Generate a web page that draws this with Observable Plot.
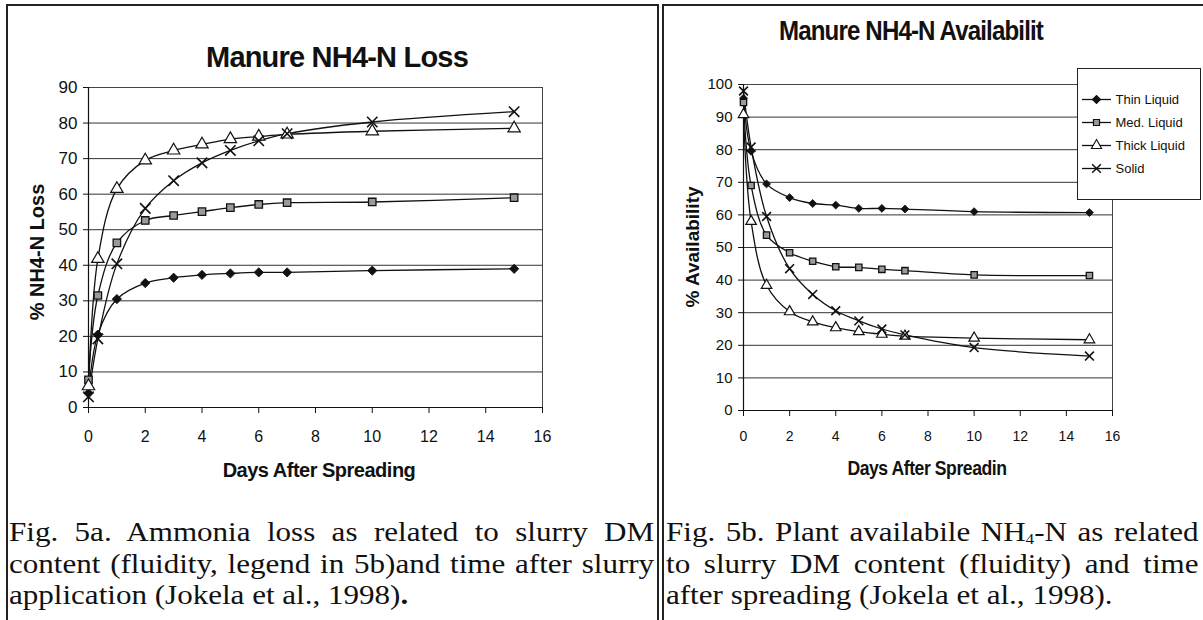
<!DOCTYPE html>
<html><head><meta charset="utf-8">
<script src="https://cdn.jsdelivr.net/npm/d3@7"></script>
<script src="https://cdn.jsdelivr.net/npm/@observablehq/plot@0.6"></script>
<style>
html,body{margin:0;padding:0;background:#fff;}
body{width:1203px;height:620px;overflow:hidden;position:relative;font-family:"Liberation Sans",Arial,sans-serif;color:#111;}
.ctr{position:absolute;transform:translate(-50%,-50%);white-space:nowrap;}
.vert{position:absolute;transform:translate(-50%,-50%) rotate(-90deg);white-space:nowrap;}
.cap{position:absolute;font-family:"Liberation Serif","Times New Roman",serif;font-size:27px;line-height:31.5px;white-space:nowrap;transform:scaleX(1.15);transform-origin:0 0;}
.cap div{text-align:justify;text-align-last:justify;}
.cap div.last{text-align:left;text-align-last:left;}
.cap .sub{font-size:15px;line-height:15px;display:inline-block;vertical-align:-3px;}
.bl{position:absolute;background:#222;}
</style></head><body>
<script>
// ---- data ----
const days = [0, 0.33, 1, 2, 3, 4, 5, 6, 7, 10, 15];
const seriesNames = ["Thin Liquid", "Med. Liquid", "Thick Liquid", "Solid"];
// Fig 5a: % NH4-N loss
const lossThin  = [4, 20.5, 30.5, 35, 36.5, 37.3, 37.7, 38, 38, 38.5, 39];
const lossMed   = [7.8, 31.5, 46.3, 52.6, 54, 55.1, 56.2, 57.1, 57.6, 57.8, 59];
const lossThick = [6, 41.8, 61.5, 69.5, 72.3, 74, 75.5, 76.2, 76.8, 77.7, 78.5];
const lossSolid = [3, 19.3, 40.4, 56, 63.8, 68.8, 72.3, 75, 77, 80.3, 83.2];
// Fig 5b: % availability
const availThin  = [95.8, 79.5, 69.5, 65.3, 63.5, 63, 62, 62, 61.8, 61, 60.7];
const availMed   = [94.5, 69, 53.8, 48.4, 45.8, 44.1, 43.9, 43.3, 42.9, 41.6, 41.4];
const availThick = [90.8, 58, 38.4, 30.3, 27.2, 25.4, 24.2, 23.4, 22.8, 22.2, 21.7];
const availSolid = [98, 80.8, 59.5, 43.5, 35.6, 30.6, 27.5, 25, 23.2, 19.3, 16.7];
// ticks
const xTicks = [0, 2, 4, 6, 8, 10, 12, 14, 16];
const lossTicks = [0, 10, 20, 30, 40, 50, 60, 70, 80, 90];
const availTicks = [0, 10, 20, 30, 40, 50, 60, 70, 80, 90, 100];

function build(vals) {
  return vals.flatMap((arr, k) => days.map((d, i) => ({day: d, value: arr[i], series: seriesNames[k]})));
}
const lossData = build([lossThin, lossMed, lossThick, lossSolid]);
const availData = build([availThin, availMed, availThick, availSolid]);

function markers(data, s) {
  const f = name => data.filter(d => d.series === name);
  return [
    Plot.dot(f("Thin Liquid"), {x: "day", y: "value", symbol: "square", rotate: 45, r: 3.7 * s, fill: "#111", stroke: "#111", strokeWidth: 0.8}),
    Plot.dot(f("Med. Liquid"), {x: "day", y: "value", symbol: "square", r: 4.2 * s, fill: "#9a9a9a", stroke: "#111", strokeWidth: 1.3}),
    Plot.dot(f("Thick Liquid"), {x: "day", y: "value", symbol: "triangle", r: 4.6 * s, fill: "#fff", stroke: "#111", strokeWidth: 1.2}),
    Plot.dot(f("Solid"), {x: "day", y: "value", symbol: "times", r: 4.8 * s, stroke: "#111", strokeWidth: 1.6})
  ];
}

function chart(data, yTicks, yMax, opts) {
  return Plot.plot({
    width: opts.width, height: 500,
    marginLeft: opts.ml, marginRight: opts.mr, marginTop: opts.mt, marginBottom: opts.mb,
    x: {domain: [0, 16]},
    y: {domain: [0, yMax]},
    style: {fontFamily: opts.font, fontSize: opts.fs + "px", color: "#111", background: "transparent", overflow: "visible"},
    marks: [
      Plot.gridY(yTicks.filter(t => t > 0 && t < yMax), {stroke: "#333", strokeOpacity: 1, strokeWidth: 1}),
      Plot.frame({stroke: "#444", strokeWidth: 1}),
      Plot.ruleY([0], {stroke: "#111", strokeWidth: 1.2}),
      Plot.ruleX([0], {stroke: "#111", strokeWidth: 1.2}),
      Plot.axisX(xTicks, {tickSize: 6, tickPadding: opts.xpad, label: null, stroke: "#111", fontSize: opts.xfs}),
      Plot.axisY(yTicks, {tickSize: 5, tickPadding: 6, label: null, stroke: "#111", fontSize: opts.fs}),
      Plot.line(data, {x: "day", y: "value", z: "series", curve: "catmull-rom", stroke: "#111", strokeWidth: 1.3}),
      ...markers(data, opts.ms)
    ]
  });
}

const left = chart(lossData, lossTicks, 90, {width: 658, ml: 88, mr: 116, mt: 87, mb: 93, font: "Liberation Sans", fs: 17, xfs: 16, xpad: 17, ms: 1});
left.style.position = "absolute"; left.style.left = "0px"; left.style.top = "0px";
document.body.appendChild(left);

const right = chart(availData, availTicks, 100, {width: 540, ml: 80, mr: 91, mt: 84, mb: 90, font: "Liberation Sans", fs: 15, xfs: 14, xpad: 15, ms: 0.85});
right.style.position = "absolute"; right.style.left = "663px"; right.style.top = "0px";
document.body.appendChild(right);

// legend (Plot, ordinal positions of series)
const legData = seriesNames.map(n => ({series: n}));
const legend = Plot.plot({
  width: 122, height: 130, margin: 0,
  x: {domain: [0, 122], range: [0, 122], axis: null},
  y: {domain: seriesNames, range: [17, 112], type: "point", axis: null},
  style: {fontFamily: "Liberation Sans", fontSize: "13px", color: "#111", background: "#fff", overflow: "visible"},
  marks: [
    Plot.ruleY(legData, {y: "series", x1: () => 4, x2: () => 33, stroke: "#111", strokeWidth: 1.3}),
    Plot.dot(legData.filter(d => d.series === "Thin Liquid"), {x: () => 18, y: "series", symbol: "square", rotate: 45, r: 3, fill: "#111", stroke: "#111"}),
    Plot.dot(legData.filter(d => d.series === "Med. Liquid"), {x: () => 18, y: "series", symbol: "square", r: 3.4, fill: "#9a9a9a", stroke: "#111", strokeWidth: 1.2}),
    Plot.dot(legData.filter(d => d.series === "Thick Liquid"), {x: () => 18, y: "series", symbol: "triangle", r: 3.8, fill: "#fff", stroke: "#111", strokeWidth: 1.1}),
    Plot.dot(legData.filter(d => d.series === "Solid"), {x: () => 18, y: "series", symbol: "times", r: 4, stroke: "#111", strokeWidth: 1.5}),
    Plot.text(legData, {x: () => 37, y: "series", text: "series", textAnchor: "start", fill: "#111", letterSpacing: "-0.6px"})
  ]
});
legend.style.position = "absolute"; legend.style.left = "1077px"; legend.style.top = "68px";
legend.style.border = "1px solid #222"; legend.style.boxSizing = "content-box";
document.body.appendChild(legend);
</script>

<!-- panel borders -->
<div class="bl" style="left:6px;top:4px;width:2px;height:616px;"></div>
<div class="bl" style="left:6px;top:4px;width:653px;height:2px;"></div>
<div class="bl" style="left:657px;top:4px;width:2px;height:616px;"></div>
<div class="bl" style="left:662px;top:4px;width:2px;height:616px;"></div>
<div class="bl" style="left:662px;top:4px;width:541px;height:2px;"></div>

<!-- left chart texts -->
<div class="ctr" style="left:337px;top:57px;font-size:29px;font-weight:bold;letter-spacing:-0.8px;">Manure NH4-N Loss</div>
<div class="vert" style="left:37px;top:252px;font-size:20px;font-weight:bold;">% NH4-N Loss</div>
<div class="ctr" style="left:319px;top:470px;font-size:20px;font-weight:bold;letter-spacing:-0.5px;">Days After Spreading</div>

<!-- right chart texts -->
<div class="ctr" style="left:911px;top:31px;font-size:28px;font-weight:bold;letter-spacing:-1px;transform:translate(-50%,-50%) scaleX(0.86);">Manure NH4-N Availabilit</div>
<div class="vert" style="left:693px;top:247px;font-size:19px;font-weight:bold;">% Availability</div>
<div class="ctr" style="left:927px;top:468px;font-size:20px;font-weight:bold;letter-spacing:-0.5px;transform:translate(-50%,-50%) scaleX(0.88);">Days After Spreadin</div>

<!-- captions -->
<div class="cap" style="left:9px;top:517px;width:561px;">
  <div>Fig. 5a. Ammonia loss as related to slurry DM</div>
  <div>content (fluidity, legend in 5b)and time after slurry</div>
  <div class="last">application (Jokela et al., 1998)<b>.</b></div>
</div>
<div class="cap" style="left:666px;top:517px;width:463px;">
  <div>Fig. 5b. Plant availabile NH<span class="sub">4</span>-N as related</div>
  <div>to slurry DM content (fluidity) and time</div>
  <div class="last">after spreading (Jokela et al., 1998).</div>
</div>
</body></html>
